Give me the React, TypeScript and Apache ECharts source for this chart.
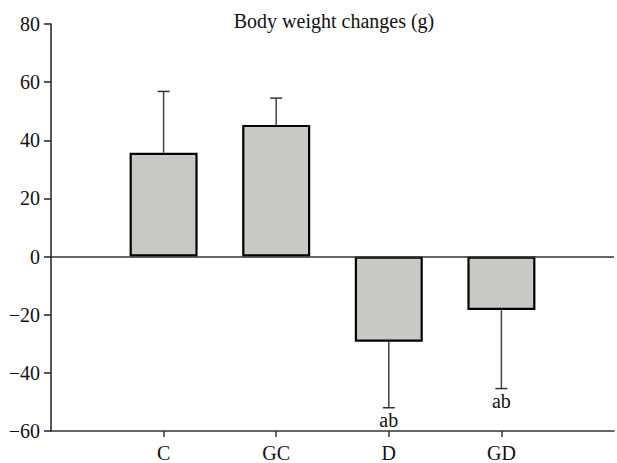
import React, { useEffect, useRef } from "react";
import * as echarts from "echarts";

const categories = ["", "C", "GC", "D", "GD", ""];
const means = [null, 35.7, 45.3, -29.3, -18.4, null];
const errorEnds = [null, 56.8, 54.5, -52.0, -45.4, null];
const letters = ["", "", "", "ab", "ab", ""];
const yTicks = { min: -60, max: 80, interval: 20 };
const titleText = "Body weight changes (g)";

const FONT = "'Liberation Serif', 'DejaVu Serif', serif";

export default function App() {
  const ref = useRef<HTMLDivElement>(null);
  useEffect(() => {
    if (!ref.current) return;
    const chart = echarts.init(ref.current, null, { renderer: "svg" });
    const errData = categories
      .map((c, i) => [i, means[i], errorEnds[i], letters[i]])
      .filter((d) => d[1] !== null);
    chart.setOption({
      animation: false,
      title: {
        text: titleText,
        left: 329,
        textAlign: "center",
        top: 6,
        textStyle: { fontFamily: FONT, fontSize: 20, fontWeight: "normal", color: "#111" },
      },
      grid: { left: 51, right: -1, top: 24, bottom: 29.5 },
      xAxis: {
        type: "category",
        data: categories,
        boundaryGap: false,
        axisLine: { onZero: false, lineStyle: { color: "#333", width: 1.5 } },
        axisTick: {
          length: 6,
          interval: (i: number, v: string) => v !== "",
          lineStyle: { color: "#333", width: 1.5 },
        },
        axisLabel: {
          interval: 0,
          margin: 12,
          fontFamily: FONT,
          fontSize: 20,
          color: "#111",
        },
        splitLine: { show: false },
      },
      yAxis: {
        type: "value",
        min: yTicks.min,
        max: yTicks.max,
        interval: yTicks.interval,
        axisLine: { show: true, lineStyle: { color: "#222", width: 1.5 } },
        axisTick: { show: true, length: 7, lineStyle: { color: "#222", width: 1.5 } },
        axisLabel: {
          margin: 11,
          fontFamily: FONT,
          fontSize: 20,
          color: "#111",
          formatter: (v: number) => (v < 0 ? "\u2212" + Math.abs(v) : String(v)),
        },
        splitLine: { show: false },
      },
      series: [
        {
          type: "custom",
          z: 1,
          data: errData,
          renderItem: (params: any, api: any) => {
            const x = api.value(0);
            const m = api.value(1);
            const e = api.value(2);
            const p0 = api.coord([x, m]);
            const p1 = api.coord([x, e]);
            const lab = letters[x];
            const children: any[] = [
              {
                type: "line",
                shape: { x1: p0[0], y1: p0[1], x2: p1[0], y2: p1[1] },
                style: { stroke: "#444", lineWidth: 1.5 },
              },
              {
                type: "line",
                shape: { x1: p1[0] - 6, y1: p1[1], x2: p1[0] + 6, y2: p1[1] },
                style: { stroke: "#333", lineWidth: 1.5 },
              },
            ];
            if (lab) {
              children.push({
                type: "text",
                style: {
                  text: lab,
                  x: p1[0],
                  y: p1[1] + 2,
                  align: "center",
                  verticalAlign: "top",
                  fontFamily: FONT,
                  fontSize: 20,
                  fill: "#111",
                },
              });
            }
            return { type: "group", children };
          },
        },
        {
          type: "bar",
          z: 2,
          data: means,
          barWidth: 68,
          itemStyle: { color: "#c9c8c4", borderColor: "#000", borderWidth: 2.2 },
          markLine: {
            silent: true,
            symbol: "none",
            label: { show: false },
            lineStyle: { color: "#333", width: 1.5, type: "solid" },
            data: [{ yAxis: 0 }],
          },
        },
      ],
    });
    return () => chart.dispose();
  }, []);
  return (
    <div
      ref={ref}
      style={{ position: "fixed", left: 0, top: 0, width: 617, height: 463, background: "#fff" }}
    />
  );
}
